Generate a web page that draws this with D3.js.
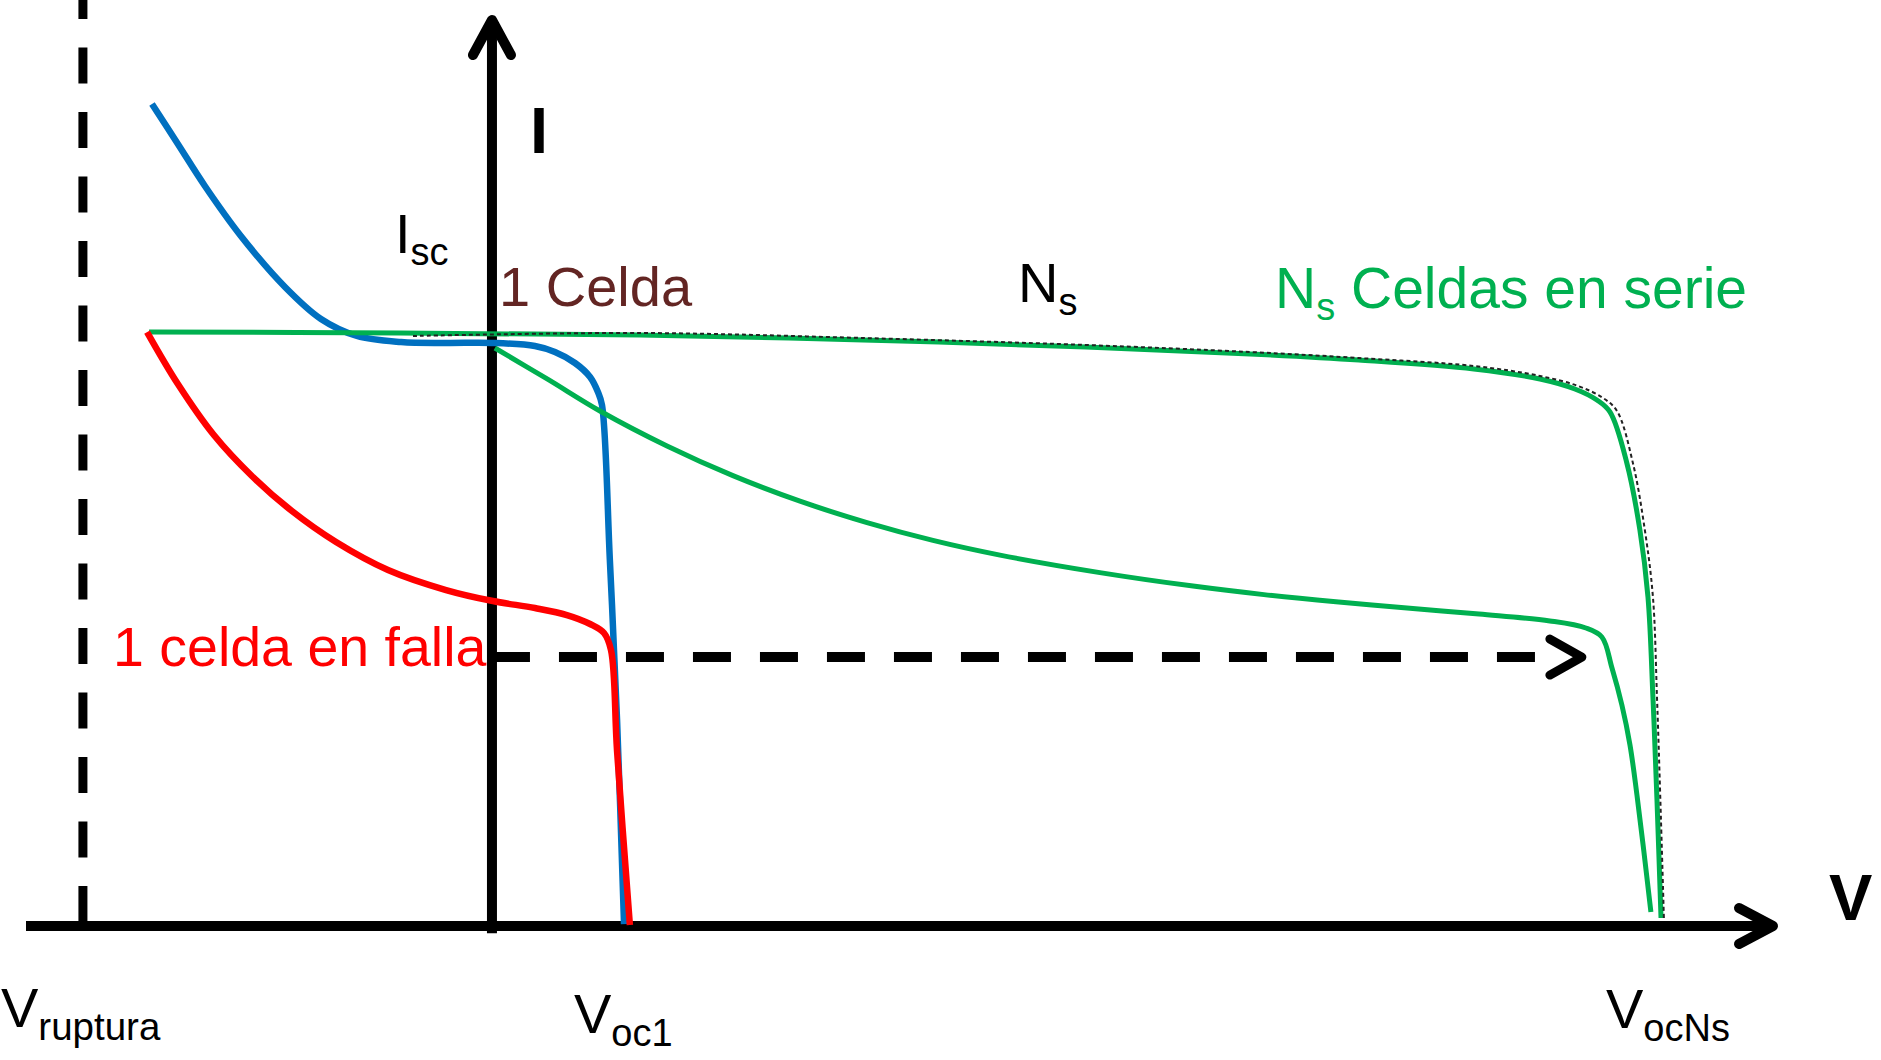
<!DOCTYPE html>
<html><head><meta charset="utf-8">
<script src="https://cdn.jsdelivr.net/npm/d3@7"></script>
<style>html,body{margin:0;padding:0;background:#fff;overflow:hidden}</style>
</head><body><svg id="chart" width="1881" height="1060"></svg>
<script>
// ---- data (schematic I-V curves; V in volts, I in amperes) ----
const vDomain = [-2.071, 5.707];
const iDomain = [0, 12.5];
const vRuptura = -1.818;
const iFaultMarker = 3.69;
const vArrowEnd = 4.862;

// 1 cell (blue)
const cellV = [-1.511,-1.396,-1.276,-1.116,-0.920,-0.760,-0.600,-0.404,-0.204,0,0.191,0.280,0.369,0.436,0.471,0.489,0.524,0.556,0.587];
const cellI = [11.279,10.730,10.154,9.468,8.768,8.329,8.096,8.013,8.000,8.000,7.958,7.876,7.725,7.533,7.327,7.149,5.022,2.827,0.027];
// 1 failing cell (red)
const failV = [-1.533,-1.396,-1.236,-1.067,-0.889,-0.693,-0.462,-0.204,0.004,0.191,0.333,0.436,0.498,0.529,0.556,0.613];
const failI = [8.150,7.437,6.737,6.175,5.694,5.269,4.885,4.610,4.459,4.363,4.267,4.144,4.020,3.787,2.401,0.014];
// Ns cells in series (green, healthy)
const seriesV = [-1.524,-0.409,0.658,1.649,2.640,3.369,3.853,4.364,4.658,4.813,4.911,4.969,5.044,5.102,5.138,5.160,5.178,5.196];
const seriesI = [8.150,8.137,8.110,8.041,7.945,7.849,7.766,7.643,7.505,7.368,7.217,7.053,6.353,5.434,4.514,3.142,1.729,0.110];
// Ns x single cell (black dotted)
const idealV = [-0.351,0.658,1.649,2.640,3.369,3.853,4.364,4.658,4.827,4.938,5.000,5.071,5.124,5.160,5.178,5.193,5.209];
const idealI = [8.096,8.137,8.068,7.972,7.876,7.793,7.684,7.547,7.410,7.245,7.067,6.353,5.434,4.514,3.142,1.729,0.082];
// Ns cells with one failing (green, lower)
const faultV = [0.013,0.249,0.480,0.778,1.071,1.369,1.667,1.960,2.258,2.702,3.116,3.431,3.751,4.067,4.387,4.702,4.862,4.933,4.978,5.022,5.058,5.089,5.120,5.151];
const faultI = [7.931,7.499,7.066,6.586,6.179,5.829,5.535,5.291,5.089,4.849,4.664,4.547,4.448,4.363,4.280,4.186,4.089,3.965,3.540,3.032,2.484,1.798,1.015,0.192];

const FONT = "'Liberation Sans', Arial, sans-serif";
const svg = d3.select("#chart");
const xS = d3.scaleLinear().domain(vDomain).range([26, 1776]);
const yS = d3.scaleLinear().domain(iDomain).range([926, 15]);
const zip = (a, b) => a.map((v, k) => [v, b[k]]);
const line = d3.line().x(d => xS(d[0])).y(d => yS(d[1])).curve(d3.curveCatmullRom.alpha(0.5));

// Breakdown voltage dashed line
svg.append("line")
  .attr("x1", xS(vRuptura)).attr("x2", xS(vRuptura))
  .attr("y1", yS(0) - 4).attr("y2", 0)
  .attr("stroke", "#000").attr("stroke-width", 9).attr("stroke-dasharray", "36 28.5");

// Axes
const x0 = xS(0), y0 = yS(0);
svg.append("line").attr("x1", xS(vDomain[0])).attr("x2", xS(vDomain[1]) - 6)
  .attr("y1", y0).attr("y2", y0).attr("stroke", "#000").attr("stroke-width", 10);
svg.append("line").attr("x1", x0).attr("x2", x0)
  .attr("y1", yS(-0.1)).attr("y2", yS(iDomain[1]) + 8).attr("stroke", "#000").attr("stroke-width", 10);
// arrowheads
const xt = xS(vDomain[1]) - 3, yt = yS(iDomain[1]) + 5;
svg.append("path").attr("d", `M${xt-34},${y0-18}L${xt},${y0}L${xt-34},${y0+18}`)
  .attr("fill", "none").attr("stroke", "#000").attr("stroke-width", 10)
  .attr("stroke-linecap", "round").attr("stroke-linejoin", "round");
svg.append("path").attr("d", `M${x0-19},${yt+35}L${x0},${yt}L${x0+19},${yt+35}`)
  .attr("fill", "none").attr("stroke", "#000").attr("stroke-width", 10)
  .attr("stroke-linecap", "round").attr("stroke-linejoin", "round");

// Curves
svg.append("path").attr("d", line(zip(cellV, cellI))).attr("fill", "none")
  .attr("stroke", "#0070C0").attr("stroke-width", 6.5);
svg.append("path").attr("d", line(zip(seriesV, seriesI))).attr("fill", "none")
  .attr("stroke", "#00B050").attr("stroke-width", 5);
svg.append("path").attr("d", line(zip(idealV, idealI))).attr("fill", "none")
  .attr("stroke", "#222").attr("stroke-width", 2).attr("stroke-dasharray", "4 3");
svg.append("path").attr("d", line(zip(faultV, faultI))).attr("fill", "none")
  .attr("stroke", "#00B050").attr("stroke-width", 5);
svg.append("path").attr("d", line(zip(failV, failI))).attr("fill", "none")
  .attr("stroke", "#FF0000").attr("stroke-width", 6.5);

// Dashed arrow (operating point shift)
const ya = yS(iFaultMarker), xa = xS(vArrowEnd);
svg.append("line").attr("x1", x0).attr("x2", xa - 46).attr("y1", ya).attr("y2", ya)
  .attr("stroke", "#000").attr("stroke-width", 10).attr("stroke-dasharray", "38 29");
svg.append("path").attr("d", `M${xa-36},${ya-18}L${xa-4},${ya}L${xa-36},${ya+18}`)
  .attr("fill", "none").attr("stroke", "#000").attr("stroke-width", 9)
  .attr("stroke-linecap", "round").attr("stroke-linejoin", "round");

// Labels
function label(x, y, main, sub, color, size, subSize, dy, weight) {
  const t = svg.append("text").attr("x", x).attr("y", y)
    .attr("font-family", FONT).attr("font-size", size).attr("fill", color)
    .attr("font-weight", weight || "normal");
  t.append("tspan").text(main);
  if (sub) {
    t.append("tspan").attr("font-size", subSize).attr("dy", dy).text(sub[0]);
    if (sub[1]) t.append("tspan").attr("font-size", size).attr("dy", -dy).text(sub[1]);
  }
  return t;
}
label(530, 153, "I", null, "#000", 65, 0, 0, "bold");
label(1829, 920, "V", null, "#000", 65, 0, 0, "bold");
label(395, 253, "I", ["sc"], "#000", 56, 38, 12);
label(499, 306, "1 Celda", null, "#632523", 56);
label(1018, 302, "N", ["s"], "#000", 56, 38, 13);
label(1275, 308, "N", ["s", " Celdas en serie"], "#00B050", 57, 38, 12);
label(113, 666, "1 celda en falla", null, "#FF0000", 55.5);
label(1, 1027, "V", ["ruptura"], "#000", 56, 38.5, 13);
label(574, 1033, "V", ["oc1"], "#000", 56, 38, 13);
label(1606, 1028, "V", ["ocNs"], "#000", 56, 38, 13);
</script></body></html>
